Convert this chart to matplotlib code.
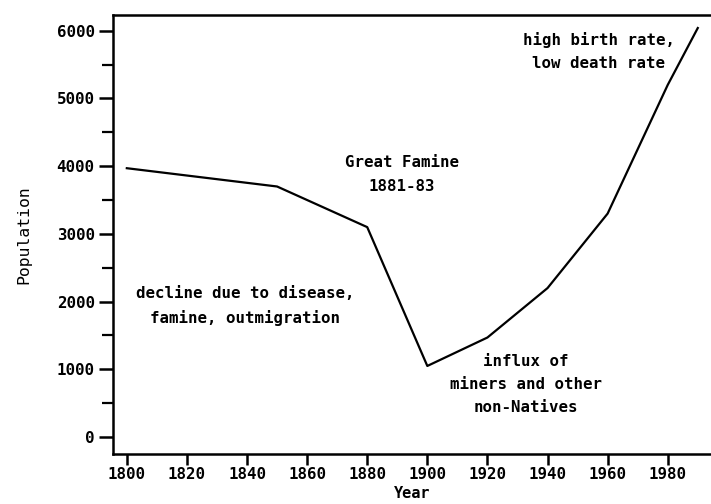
import matplotlib
matplotlib.use("Agg")
import matplotlib.pyplot as plt
from matplotlib.ticker import MultipleLocator

# population
years = [1800, 1850, 1880, 1900, 1920, 1940, 1960, 1980, 1990]
population = [3970, 3700, 3100, 1050, 1470, 2200, 3300, 5200, 6040]

x_ticks = [1800, 1820, 1840, 1860, 1880, 1900, 1920, 1940, 1960, 1980]
y_ticks = [0, 1000, 2000, 3000, 4000, 5000, 6000]

notes = [
    ("high birth rate,\nlow death rate", 1957, 5690),
    ("Great Famine\n1881-83", 1891.5, 3875),
    ("decline due to disease,\nfamine, outmigration", 1839.4, 1938),
    ("influx of\nminers and other\nnon-Natives", 1932.8, 775),
]

plt.rcParams['font.family'] = ['DejaVu Sans Mono']

fig = plt.figure(figsize=(7.11, 5.04), dpi=100)
ax = fig.add_axes([0.1585, 0.0992, 0.8415, 0.871])

ax.plot(years, population, color='black', linewidth=1.6)

for text, x, y in notes:
    ax.text(x, y, text, ha='center', va='center', fontsize=11.3,
            fontweight='bold', linespacing=1.7)

ax.set_xlim(1795.3, 1994.4)
ax.set_ylim(-250, 6232)
ax.set_xticks(x_ticks)
ax.set_yticks(y_ticks)
ax.yaxis.set_minor_locator(MultipleLocator(500))

ax.tick_params(axis='x', which='major', length=8, width=1.8,
               labelsize=11.3, pad=1)
ax.tick_params(axis='y', which='major', length=10, width=1.8,
               labelsize=11.3, pad=3)
ax.tick_params(axis='y', which='minor', length=8, width=1.6)
for lab in ax.get_xticklabels() + ax.get_yticklabels():
    lab.set_fontweight('bold')

for side in ['left', 'bottom', 'top']:
    ax.spines[side].set_linewidth(1.8)
ax.spines['right'].set_visible(False)

ax.set_xlabel('Year', fontsize=11, fontweight='bold', labelpad=3)
ax.set_ylabel('Population', fontsize=11.8, labelpad=18)

fig.savefig('out.png', dpi=100)
